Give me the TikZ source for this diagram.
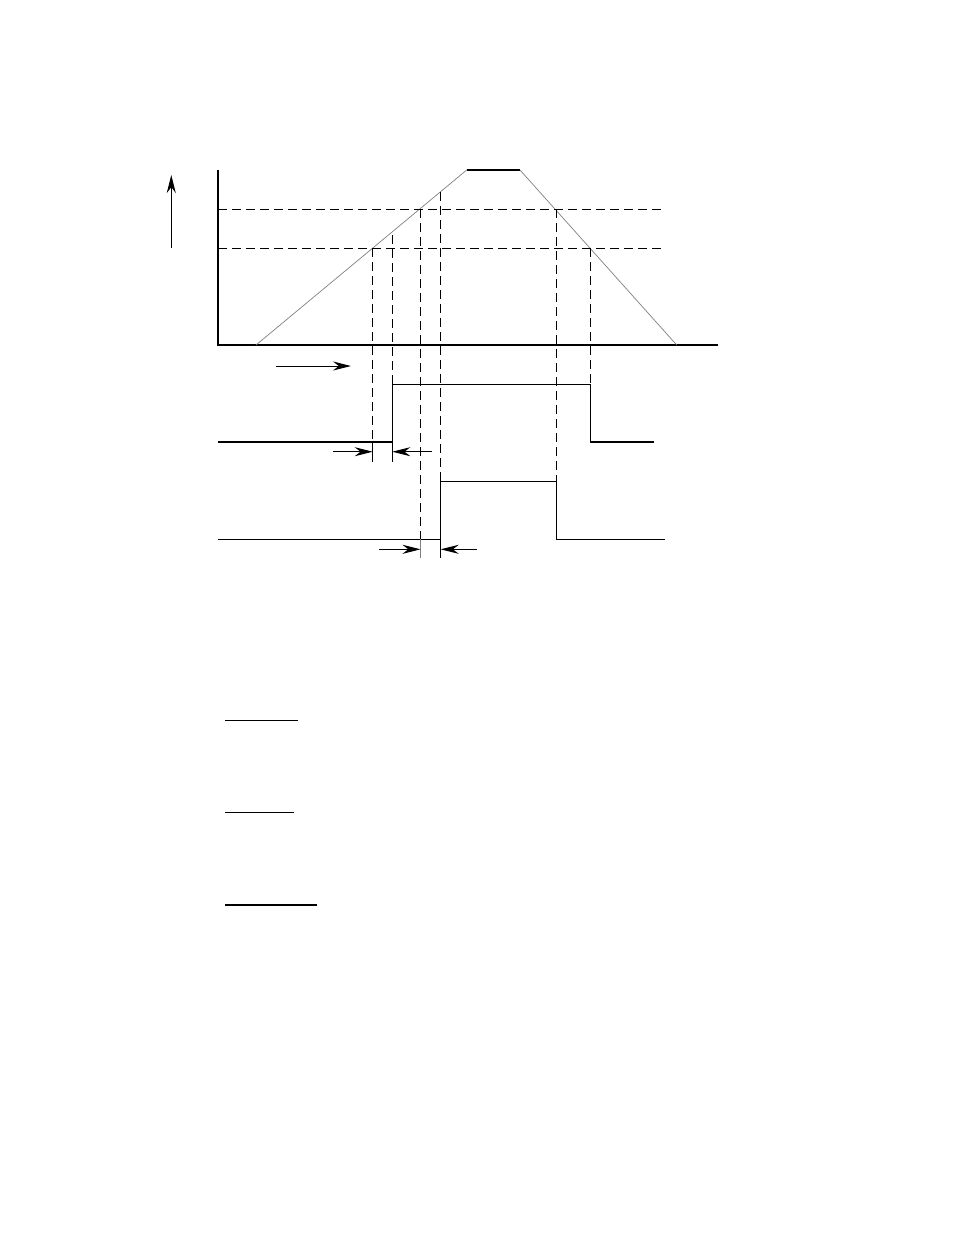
\documentclass[tikz,border=0pt]{standalone}
\usetikzlibrary{arrows.meta}
\begin{document}
\begin{tikzpicture}[
            x=1pt, y=-1pt,
            sig line/.style={line width=1.3pt},
            guide line/.style={line width=1.2pt, dash pattern=on 9pt off 5pt},
            ramp line/.style={line width=0.7pt, gray},
            dim arrow/.style={line width=1pt, -{Stealth[length=18pt,width=9pt]}}]
        \useasboundingbox (0,0) rectangle (954,1235);
                % Define ramp corners
        \coordinate (rampStart) at (256,345);
        \coordinate (rampTopL) at (466.7,170);
        \coordinate (rampTopR) at (520,170);
        \coordinate (rampEnd) at (676.7,345);
                % Axes and arrows
        \draw[sig line] (218,170) -- (218,345) -- (717.7,345);
        \draw[dim arrow] (171.3,248) -- (171.3,175);
        \draw[dim arrow] (276,366) -- (351,366);
                % Ramp
        \draw[ramp line] (rampStart) -- (rampTopL);
        \draw[sig line] (rampTopL) -- (rampTopR);
        \draw[ramp line] (rampTopR) -- (rampEnd);
                % Level lines
        \draw[guide line] (218,209.3) -- (661.7,209.3);
        \draw[guide line] (218,248.3) -- (661.7,248.3);
                % Vertical guides
        \foreach \gx/\gtop/\gbot in {372.7/248.3/442, 392.3/235/384.3, 420.5/209.3/539.3,
                                     440.7/191.7/481.7, 556.3/209.3/481.7, 590.3/248.3/384.3}
            \draw[guide line] (\gx,\gtop) -- (\gx,\gbot);
                % Signal 1
        \draw[sig line] (218,442) -- (392.3,442) -- (392.3,384.3) -- (590.3,384.3)
            -- (590.3,442) -- (654,442);
        \draw[sig line] (372.7,442) -- (372.7,461.7);
        \draw[sig line] (392.3,442) -- (392.3,461.7);
        \draw[dim arrow] (333.3,451.7) -- (372.7,451.7);
        \draw[dim arrow] (431.7,451.7) -- (392.3,451.7);
                % Signal 2
        \draw[sig line] (218,539.3) -- (440.7,539.3) -- (440.7,481.7) -- (556.3,481.7)
            -- (556.3,539.3) -- (665,539.3);
        \draw[line width=0.8pt, gray] (420.5,539.3) -- (420.5,558);
        \draw[sig line] (440.7,539.3) -- (440.7,558);
        \draw[dim arrow] (379,549.3) -- (420.5,549.3);
        \draw[dim arrow] (476.7,549.3) -- (440.7,549.3);
                % Underlines
        \draw[sig line] (225,720.5) -- (297.7,720.5);
        \draw[sig line] (225,812.7) -- (294,812.7);
        \draw[sig line] (225,905) -- (316.7,905);
\end{tikzpicture}
\end{document}
